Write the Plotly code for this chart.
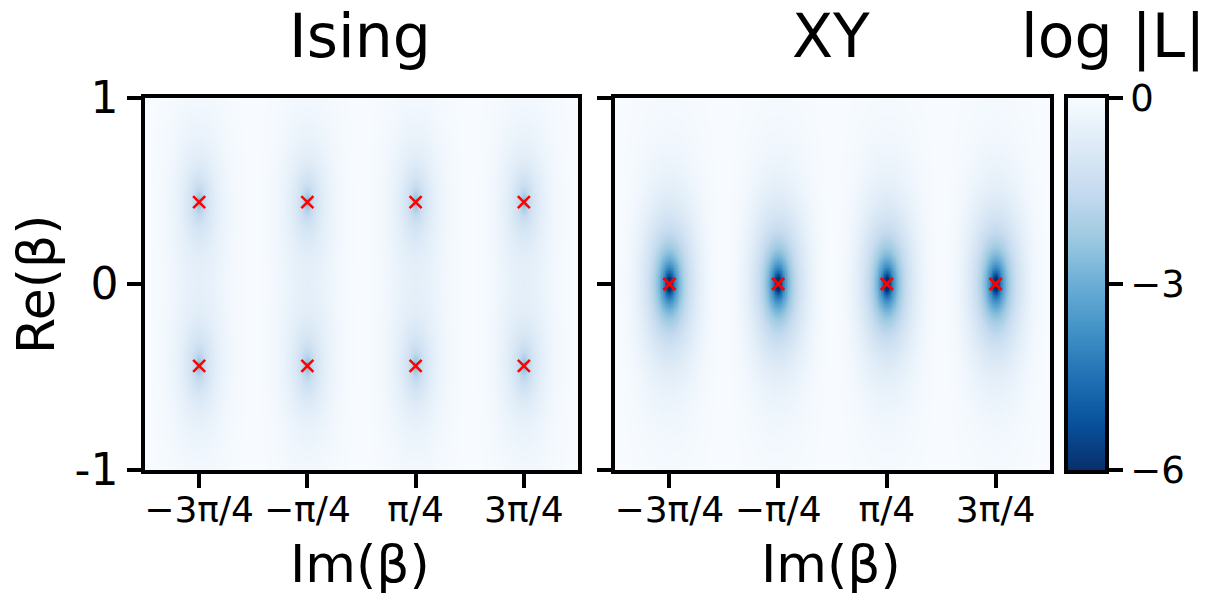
import numpy as np
import plotly.graph_objects as go

# ---- data ----
im_ticks = [-3*np.pi/4, -np.pi/4, np.pi/4, 3*np.pi/4]
im_tick_labels = ["\u22123\u03c0/4", "\u2212\u03c0/4", "\u03c0/4", "3\u03c0/4"]
re_ticks = [1, 0, -1]
re_tick_labels = ["1", "0", "-1"]
cb_ticks = [0, -3, -6]
cb_tick_labels = ["0", "\u22123", "\u22126"]

ising_zero_re = [0.44, -0.44]
ising_zero_im = [-3*np.pi/4, -np.pi/4, np.pi/4, 3*np.pi/4]
xy_zero_re = [0.0]
xy_zero_im = [-3*np.pi/4, -np.pi/4, np.pi/4, 3*np.pi/4]

ising_strength = 1.8
xy_strength = 5.2
zmin, zmax = -6, 0

# ---- field on grid ----
im_grid = np.linspace(-np.pi, np.pi, 700)
re_grid = np.linspace(-1, 1, 500)
B_im, B_re = np.meshgrid(im_grid, re_grid)
beta = B_re + 1j * B_im

a0 = ising_zero_re[0]
g_ising = np.cosh(4 * beta) + np.cosh(4 * a0)
g_ising_ref = np.cosh(4 * B_re) + np.cosh(4 * a0)
z_ising = ising_strength * np.log10(np.abs(g_ising) / g_ising_ref + 1e-30)
z_ising = np.clip(z_ising, zmin, zmax)

g_xy = np.cosh(2 * (beta - xy_zero_re[0]))
g_xy_ref = np.cosh(2 * (B_re - xy_zero_re[0]))
z_xy = xy_strength * np.log10(np.abs(g_xy) / g_xy_ref + 1e-30)
z_xy = np.clip(z_xy, zmin, zmax)

cb_levels = np.linspace(zmin, zmax, 300)

blues_r = [
    [0.0, "#08306b"], [0.125, "#08519c"], [0.25, "#2171b5"], [0.375, "#4292c6"],
    [0.5, "#6baed6"], [0.625, "#9ecae1"], [0.75, "#c6dbef"], [0.875, "#deebf7"],
    [1.0, "#f7fbff"],
]

W, H = 1224, 598
def px_x(p):
    return p / W
def px_y(p):
    return 1 - p / H

FONT = "DejaVu Sans"
LW = 3.5
fig = go.Figure()

fig.add_trace(go.Heatmap(
    x=im_grid, y=re_grid, z=z_ising, zmin=zmin, zmax=zmax, colorscale=blues_r,
    showscale=False, xaxis="x", yaxis="y", hoverinfo="skip",
))
fig.add_trace(go.Heatmap(
    x=im_grid, y=re_grid, z=z_xy, zmin=zmin, zmax=zmax, colorscale=blues_r,
    showscale=False, xaxis="x2", yaxis="y2", hoverinfo="skip",
))
# colour bar drawn as its own axis
fig.add_trace(go.Heatmap(
    x=[0], y=cb_levels, z=cb_levels.reshape(-1, 1), zmin=zmin, zmax=zmax,
    colorscale=blues_r, showscale=False, xaxis="x3", yaxis="y3", hoverinfo="skip",
))

ix = [im for r in ising_zero_re for im in ising_zero_im]
iy = [r for r in ising_zero_re for im in ising_zero_im]
fig.add_trace(go.Scatter(
    x=ix, y=iy, mode="markers", xaxis="x", yaxis="y",
    marker=dict(symbol="x-thin", size=12, line=dict(color="red", width=2.5), color="red"),
    showlegend=False, hoverinfo="skip",
))
xx = [im for r in xy_zero_re for im in xy_zero_im]
xyy = [r for r in xy_zero_re for im in xy_zero_im]
fig.add_trace(go.Scatter(
    x=xx, y=xyy, mode="markers", xaxis="x2", yaxis="y2",
    marker=dict(symbol="x-thin", size=12, line=dict(color="red", width=3), color="red"),
    showlegend=False, hoverinfo="skip",
))

axis_common = dict(
    showline=True, linewidth=LW, linecolor="black", mirror=True,
    ticks="outside", ticklen=14, tickwidth=LW, tickcolor="black",
    showgrid=False, zeroline=False,
)
xfont = dict(family=FONT, size=36, color="black")
yfont = dict(family=FONT, size=44, color="black")

fig.update_layout(
    width=W, height=H, margin=dict(l=0, r=0, t=0, b=0, autoexpand=False),
    paper_bgcolor="white", plot_bgcolor="white", showlegend=False,
    xaxis=dict(domain=[px_x(145), px_x(578)], range=[-np.pi, np.pi],
               tickvals=im_ticks, ticktext=im_tick_labels, anchor="y",
               tickfont=xfont, ticklabelstandoff=-9, **axis_common),
    yaxis=dict(domain=[px_y(470), px_y(98)], range=[-1, 1],
               tickvals=re_ticks, ticktext=re_tick_labels, anchor="x",
               tickfont=yfont, **axis_common),
    xaxis2=dict(domain=[px_x(615), px_x(1050)], range=[-np.pi, np.pi],
                tickvals=im_ticks, ticktext=im_tick_labels, anchor="y2",
                tickfont=xfont, ticklabelstandoff=-9, **axis_common),
    yaxis2=dict(domain=[px_y(470), px_y(98)], range=[-1, 1],
                tickvals=re_ticks, ticktext=["", "", ""], anchor="x2",
                tickfont=yfont, **axis_common),
    xaxis3=dict(domain=[px_x(1068), px_x(1105)], range=[-0.5, 0.5], anchor="y3",
                showline=True, linewidth=LW, linecolor="black", mirror=True,
                showticklabels=False, ticks="", showgrid=False, zeroline=False),
    yaxis3=dict(domain=[px_y(470), px_y(98)], range=[zmin, zmax], anchor="x3",
                side="right", showline=True, linewidth=LW, linecolor="black", mirror=True,
                tickvals=cb_ticks, ticktext=cb_tick_labels, ticks="outside",
                ticklen=14, tickwidth=LW, tickcolor="black", showgrid=False, zeroline=False,
                tickfont=dict(family=FONT, size=37, color="black")),
)

ann_font_title = dict(family=FONT, size=60, color="black")
ann_font_label = dict(family=FONT, size=52, color="black")
def add_text(text, x, y, font, angle=0, yanchor="middle"):
    fig.add_annotation(text=text, x=px_x(x), y=px_y(y), xref="paper", yref="paper",
                       showarrow=False, font=font, xanchor="center", yanchor=yanchor,
                       textangle=angle, borderpad=0)

add_text("Ising", 360, 0, ann_font_title, yanchor="top")
add_text("XY", 831, 0, ann_font_title, yanchor="top")
add_text("log |L|", 1113, 0, ann_font_title, yanchor="top")
add_text("Im(\u03b2)", 360, 564, ann_font_label)
add_text("Im(\u03b2)", 831, 564, ann_font_label)
add_text("Re(\u03b2)", 36, 284, ann_font_label, -90)

fig.write_html("out.html", config={"displayModeBar": False},
               post_script="document.body.style.margin='0px';")
